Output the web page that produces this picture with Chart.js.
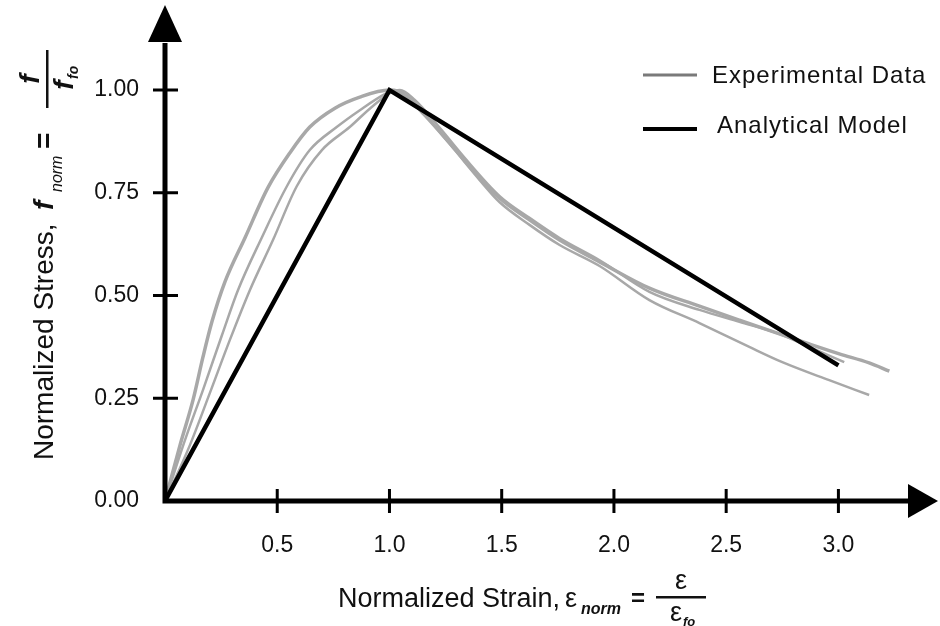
<!DOCTYPE html>
<html>
<head>
<meta charset="utf-8">
<script src="https://cdn.jsdelivr.net/npm/chart.js@4/dist/chart.umd.min.js"></script>
<style>
  html, body { margin: 0; padding: 0; background: #fff; }
  #chart { display: block; }
</style>
</head>
<body>
<canvas id="chart" width="940" height="626"></canvas>
<script>
//tick values on the axes
const xTicks = [0.5, 1.0, 1.5, 2.0, 2.5, 3.0];
const yTicks = [0, 0.25, 0.5, 0.75, 1.0];

//analytical model (normalized strain / normalized stress)
const modelStrain = [0, 1.0, 3.0];
const modelStress = [0, 1.0, 0.33];

//experimental curve 1 (outer one)
const exp1Strain = [0, 0.067, 0.125, 0.169, 0.209, 0.267, 0.356, 0.458, 0.556, 0.645, 0.757, 0.868, 1.0,
  1.068, 1.157, 1.268, 1.38, 1.491, 1.624, 1.758, 1.936, 2.158, 2.381, 2.559, 2.724, 2.87, 3.004, 3.137, 3.227];
const exp1Stress = [0, 0.136, 0.246, 0.35, 0.436, 0.533, 0.64, 0.762, 0.847, 0.91, 0.956, 0.983, 1.0,
  0.988, 0.939, 0.871, 0.8, 0.737, 0.684, 0.635, 0.582, 0.518, 0.474, 0.44, 0.409, 0.382, 0.358, 0.336, 0.316];

//experimental curve 2
const exp2Strain = [0, 0.089, 0.169, 0.254, 0.325, 0.432, 0.543, 0.645, 0.765, 0.868, 0.979, 1.024,
  1.09, 1.179, 1.291, 1.402, 1.491, 1.624, 1.758, 1.936, 2.158, 2.381, 2.603, 2.75, 2.959, 3.137];
const exp2Stress = [0, 0.148, 0.27, 0.404, 0.513, 0.642, 0.766, 0.854, 0.91, 0.951, 0.99, 1.0,
  0.981, 0.927, 0.854, 0.781, 0.727, 0.672, 0.623, 0.572, 0.489, 0.433, 0.375, 0.338, 0.294, 0.258];

//experimental curve 3
const exp3Strain = [0, 0.111, 0.2, 0.289, 0.378, 0.481, 0.587, 0.699, 0.823, 0.921, 1.01, 1.046,
  1.113, 1.224, 1.335, 1.491, 1.624, 1.758, 1.936, 2.158, 2.381, 2.559, 2.724, 2.87, 3.026];
const exp3Stress = [0, 0.136, 0.263, 0.392, 0.513, 0.635, 0.766, 0.854, 0.91, 0.959, 0.995, 1.0,
  0.976, 0.908, 0.835, 0.742, 0.689, 0.64, 0.586, 0.509, 0.465, 0.436, 0.409, 0.375, 0.338];

//where the axis lines stop (arrow heads start there)
const xAxisEnd = 3.31;
const yAxisEnd = 1.117;

//font used everywhere
const family = "'Liberation Sans', Arial, sans-serif";

//make {x,y} pairs
const pairs = (xs, ys) => xs.map((v, i) => ({ x: v, y: ys[i] }));

const grayCurve = (data, width) => ({
  label: "Experimental Data",
  data: data,
  borderColor: "#a8a8a8",
  borderWidth: width,
  pointRadius: 0,
  cubicInterpolationMode: "monotone",
  fill: false,
});

//axes, tick marks and arrows drawn on top of the curves
const axisArrows = {
  id: "axisArrows",
  afterDatasetsDraw(chart) {
    const { ctx, chartArea: a, scales } = chart;
    const x0 = scales.x.getPixelForValue(0);
    const y0 = scales.y.getPixelForValue(0);
    ctx.save();
    ctx.strokeStyle = "#000";
    ctx.fillStyle = "#000";
    ctx.lineWidth = 5;
    ctx.beginPath();
    ctx.moveTo(x0, y0 + 2.5);
    ctx.lineTo(x0, a.top + 1);
    ctx.moveTo(x0 - 2.5, y0);
    ctx.lineTo(a.right + 1, y0);
    ctx.stroke();
    //arrow heads
    ctx.beginPath();
    ctx.moveTo(x0, a.top - 37);
    ctx.lineTo(x0 - 17, a.top);
    ctx.lineTo(x0 + 17, a.top);
    ctx.closePath();
    ctx.fill();
    ctx.beginPath();
    ctx.moveTo(a.right + 30, y0);
    ctx.lineTo(a.right, y0 - 17);
    ctx.lineTo(a.right, y0 + 17);
    ctx.closePath();
    ctx.fill();
    //tick marks across the axes
    ctx.lineWidth = 3;
    ctx.beginPath();
    yTicks.forEach((v) => {
      if (v === 0) return;
      const py = scales.y.getPixelForValue(v);
      ctx.moveTo(x0 - 12, py);
      ctx.lineTo(x0 + 13, py);
    });
    xTicks.forEach((v) => {
      const px = scales.x.getPixelForValue(v);
      ctx.moveTo(px, y0 - 12);
      ctx.lineTo(px, y0 + 12);
    });
    ctx.stroke();
    ctx.restore();
  },
};

//axis titles with the small formulas, and the legend
const titlesAndLegend = {
  id: "titlesAndLegend",
  afterDraw(chart) {
    const ctx = chart.ctx;
    ctx.save();
    ctx.fillStyle = "#111";
    ctx.textBaseline = "alphabetic";
    ctx.textAlign = "left";

    //y title, rotated
    ctx.save();
    ctx.translate(53, 460);
    ctx.rotate(-Math.PI / 2);
    ctx.font = "28px " + family;
    ctx.fillText("Normalized Stress,", 0, 0);
    ctx.font = "italic bold 28px " + family;
    ctx.fillText("f", 250, 0);
    ctx.font = "italic 16px " + family;
    ctx.fillText("norm", 268, 9);
    ctx.font = "bold 28px " + family;
    ctx.fillText("=", 311, 0);
    ctx.fillRect(352, -7, 58, 2.5);
    ctx.textAlign = "center";
    ctx.font = "italic bold 28px " + family;
    ctx.fillText("f", 381, -14);
    ctx.fillText("f", 375, 20);
    ctx.textAlign = "left";
    ctx.font = "italic bold 14px " + family;
    ctx.fillText("fo", 381, 25);
    ctx.restore();

    //x title
    ctx.font = "27px " + family;
    ctx.fillText("Normalized Strain,", 338, 607);
    ctx.fillText("\u03b5", 565, 607);
    ctx.font = "italic bold 16px " + family;
    ctx.fillText("norm", 581, 614);
    ctx.font = "bold 24px " + family;
    ctx.fillText("=", 631, 606);
    ctx.fillRect(656, 596, 50, 2.5);
    ctx.textAlign = "center";
    ctx.font = "27px " + family;
    ctx.fillText("\u03b5", 681, 589);
    ctx.fillText("\u03b5", 676, 621);
    ctx.textAlign = "left";
    ctx.font = "italic bold 13px " + family;
    ctx.fillText("fo", 683, 626);

    //legend
    ctx.font = "24px " + family;
    if ("letterSpacing" in ctx) ctx.letterSpacing = "1px";
    ctx.lineWidth = 3;
    ctx.strokeStyle = "#7a7a7a";
    ctx.beginPath();
    ctx.moveTo(643, 75);
    ctx.lineTo(697, 75);
    ctx.stroke();
    ctx.fillText(chart.data.datasets[1].label, 712, 83);
    ctx.lineWidth = 4;
    ctx.strokeStyle = "#000";
    ctx.beginPath();
    ctx.moveTo(643, 129);
    ctx.lineTo(697, 129);
    ctx.stroke();
    ctx.fillText(chart.data.datasets[0].label, 717, 133);
    ctx.restore();
  },
};

const ctx = document.querySelector("#chart").getContext("2d");

let mChart = new Chart(ctx, {
  type: "line",
  data: {
    datasets: [
      {
        label: "Analytical Model",
        data: pairs(modelStrain, modelStress),
        borderColor: "#000",
        borderWidth: 4.5,
        pointRadius: 0,
        tension: 0,
        fill: false,
      },
      grayCurve(pairs(exp1Strain, exp1Stress), 3.5),
      grayCurve(pairs(exp2Strain, exp2Stress), 2.5),
      grayCurve(pairs(exp3Strain, exp3Stress), 2.5),
    ],
  },
  options: {
    responsive: false,
    animation: false,
    devicePixelRatio: 1,
    layout: { padding: { top: 42, right: 32, left: 0, bottom: 0 } },
    plugins: {
      legend: { display: false },
      tooltip: { enabled: false },
    },
    scales: {
      x: {
        type: "linear",
        min: 0,
        max: xAxisEnd,
        grid: { display: false, drawTicks: false },
        border: { display: false },
        afterBuildTicks: (s) => {
          s.ticks = xTicks.map((v) => ({ value: v }));
        },
        afterFit: (s) => {
          s.height = 125;
        },
        ticks: {
          padding: 31,
          autoSkip: false,
          maxRotation: 0,
          color: "#111",
          font: { family: family, size: 23 },
          callback: (v) => Number(v).toFixed(1),
        },
      },
      y: {
        type: "linear",
        min: 0,
        max: yAxisEnd,
        grid: { display: false, drawTicks: false },
        border: { display: false },
        afterBuildTicks: (s) => {
          s.ticks = yTicks.map((v) => ({ value: v }));
        },
        afterFit: (s) => {
          s.width = 165;
        },
        ticks: {
          padding: 26,
          autoSkip: false,
          color: "#111",
          font: { family: family, size: 23 },
          callback: (v) => Number(v).toFixed(2),
        },
      },
    },
  },
  plugins: [axisArrows, titlesAndLegend],
});
</script>
</body>
</html>
